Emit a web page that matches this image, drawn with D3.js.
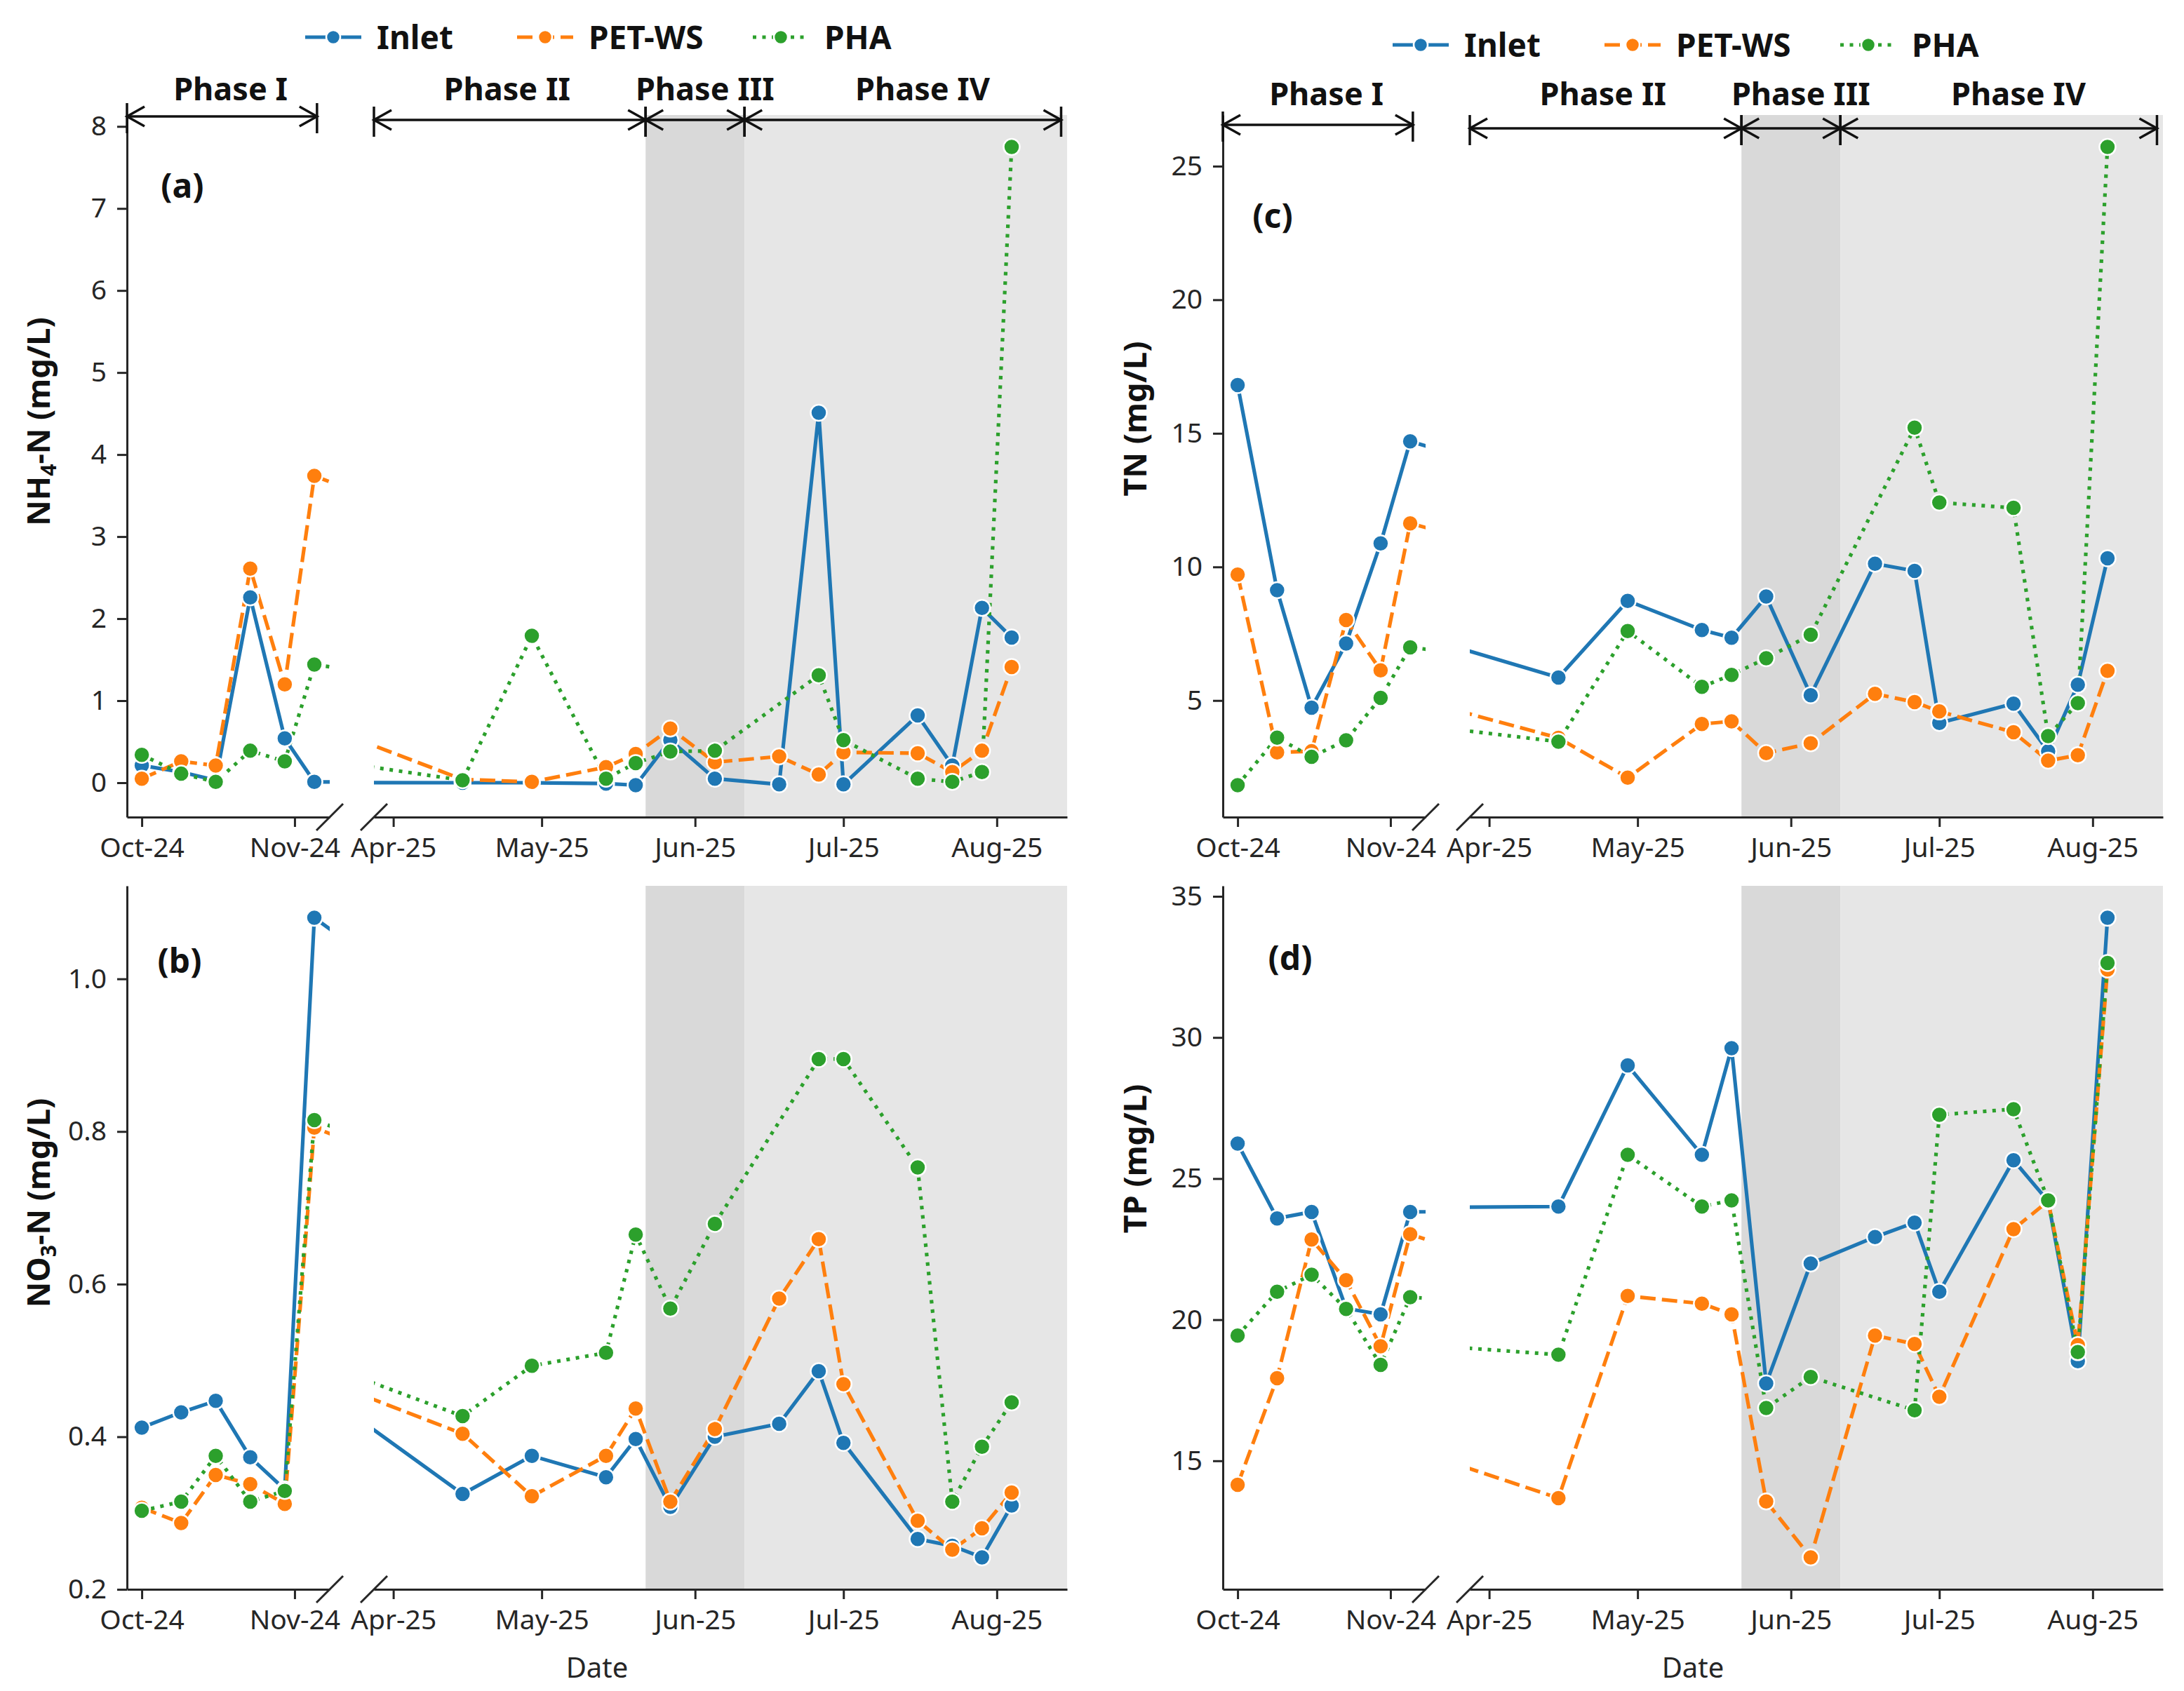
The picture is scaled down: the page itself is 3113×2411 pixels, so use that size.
<!DOCTYPE html>
<html><head><meta charset="utf-8">
<script src="https://cdn.jsdelivr.net/npm/d3@7"></script>
<style>body{margin:0;background:#fff} svg{display:block}</style>
</head><body>
<svg id="chart" width="3113" height="2411"></svg>
<script>
// ---------------- DATA ----------------
const sampleDates = ["2024-10-01","2024-10-09","2024-10-16","2024-10-23","2024-10-30","2024-11-05",
  "2025-04-15","2025-04-29","2025-05-14","2025-05-20","2025-05-27","2025-06-05","2025-06-18",
  "2025-06-26","2025-07-01","2025-07-16","2025-07-23","2025-07-29","2025-08-04"];
const seriesNames = ["Inlet","PET-WS","PHA"];

const nh4Inlet = [0.21,0.13,0.03,2.26,0.54,0.01, 0.00,0.00,-0.01,-0.03,0.52,0.05,-0.02,4.51,-0.02,0.82,0.21,2.13,1.77];
const nh4PetWs = [0.05,0.26,0.21,2.61,1.20,3.74, 0.04,0.01,0.19,0.35,0.66,0.25,0.32,0.10,0.37,0.36,0.13,0.39,1.41];
const nh4Pha   = [0.34,0.11,0.01,0.39,0.26,1.44, 0.03,1.79,0.05,0.24,0.38,0.39,null,1.31,0.52,0.05,0.01,0.13,7.75];

const no3Inlet = [0.412,0.432,0.447,0.373,0.331,1.080, 0.325,0.375,0.347,0.397,0.308,0.400,0.417,0.486,0.392,0.266,0.257,0.242,0.310];
const no3PetWs = [0.307,0.287,0.350,0.338,0.312,0.805, 0.404,0.322,0.375,0.437,0.315,0.410,0.581,0.659,0.469,0.290,0.252,0.280,0.327];
const no3Pha   = [0.303,0.315,0.375,0.315,0.329,0.815, 0.427,0.493,0.510,0.665,0.568,0.679,null,0.895,0.895,0.753,0.315,0.387,0.445];

const tnInlet = [16.81,9.13,4.73,7.13,10.88,14.70, 5.86,8.73,7.64,7.35,8.89,5.20,10.12,9.85,4.16,4.88,3.10,5.59,10.32];
const tnPetWs = [9.71,3.06,3.10,8.01,6.13,11.63, 3.60,2.11,4.12,4.22,3.03,3.40,5.25,4.94,4.59,3.81,2.75,2.95,6.11];
const tnPha   = [1.83,3.61,2.89,3.51,5.10,6.99, 3.46,7.60,5.51,5.96,6.58,7.46,null,15.21,12.41,12.21,3.67,4.90,25.72];

const tpInlet = [26.24,23.59,23.82,20.40,20.19,23.82, 24.01,29.01,25.84,29.62,17.74,21.99,22.93,23.44,20.99,25.65,24.20,18.53,34.24];
const tpPetWs = [14.15,17.93,22.84,21.40,19.06,23.03, 13.68,20.84,20.57,20.19,13.56,11.58,19.44,19.14,17.27,23.21,24.20,19.10,32.41];
const tpPha   = [19.44,20.99,21.59,20.38,18.40,20.80, 18.76,25.84,24.01,24.23,16.87,17.97,null,16.79,27.26,27.46,24.23,18.85,32.64];

const yTicksNH4 = [0,1,2,3,4,5,6,7,8];
const yTicksNO3 = [0.2,0.4,0.6,0.8,1.0];
const yTicksTN  = [5,10,15,20,25];
const yTicksTP  = [15,20,25,30,35];

const leftXLim  = ["2024-09-28T00:00","2024-11-08T03:00"];
const rightXLim = ["2025-03-28T02:00","2025-08-15T05:00"];
const leftXTicks  = ["2024-10-01","2024-11-01"];
const rightXTicks = ["2025-04-01","2025-05-01","2025-06-01","2025-07-01","2025-08-01"];

const phaseNames = ["Phase I","Phase II","Phase III","Phase IV"];
const phaseIEnd = "2024-11-05T13:00";
const phaseIIIStart = "2025-05-22";
const phaseIVStart = "2025-06-11";
const phaseIVEnd = "2025-08-14";
const phaseLabelDates = ["2024-10-19","2025-04-24","2025-06-03","2025-07-17"];

// ---------------- LAYOUT / STYLE ----------------
const W = 3113, H = 2411;
const FONT = "'Noto Sans','Open Sans','DejaVu Sans',sans-serif";
const TXT = "#262626";
const colors = {"Inlet":"#1f77b4","PET-WS":"#ff7f0e","PHA":"#2ca02c"};
const dashes = {"Inlet":null,"PET-WS":"22 9","PHA":"5 8.5"};
const colX0 = [181, 1743];
const leftW = 289, gapW = 63, rightW = 988;
const rows = [{top:164, bottom:1165},{top:1263, bottom:2266}];
const colAnno = [
  {legendX:435, legendY:53, textBase:143, arrowY1:166, arrowY:171},
  {legendX:1985, legendY:64, textBase:150, arrowY1:178, arrowY:183}
];
const legendOffsets = [0, 302, 638];

const parse = d3.isoParse;
const dates = sampleDates.map(parse);

const panels = [
  {id:"a", col:0, row:0, letter:"(a)", letterXY:[260,265], ylab:["NH","4","-N (mg/L)"], ylabY:601,
   ticks:yTicksNH4, fmt:d3.format("d"), series:{"Inlet":nh4Inlet,"PET-WS":nh4PetWs,"PHA":nh4Pha}, top:true},
  {id:"b", col:0, row:1, letter:"(b)", letterXY:[256,1370], ylab:["NO","3","-N (mg/L)"], ylabY:1715,
   ticks:yTicksNO3, fmt:d3.format(".1f"), series:{"Inlet":no3Inlet,"PET-WS":no3PetWs,"PHA":no3Pha}, top:false},
  {id:"c", col:1, row:0, letter:"(c)", letterXY:[1814,308], ylab:["TN (mg/L)"], ylabY:597,
   ticks:yTicksTN, fmt:d3.format("d"), series:{"Inlet":tnInlet,"PET-WS":tnPetWs,"PHA":tnPha}, top:true},
  {id:"d", col:1, row:1, letter:"(d)", letterXY:[1839,1366], ylab:["TP (mg/L)"], ylabY:1652,
   ticks:yTicksTP, fmt:d3.format("d"), series:{"Inlet":tpInlet,"PET-WS":tpPetWs,"PHA":tpPha}, top:false}
];

const svg = d3.select("#chart");
svg.append("rect").attr("width",W).attr("height",H).attr("fill","#fff");
const defs = svg.append("defs");

function chevron(g, x, y, dir){
  g.append("path").attr("d", `M${x-dir*25},${y-14} L${x},${y} L${x-dir*25},${y+14}`)
    .attr("fill","none").attr("stroke","#111").attr("stroke-width",3.5).attr("stroke-linejoin","miter");
}
function bar(g, x, y){
  g.append("line").attr("x1",x).attr("x2",x).attr("y1",y-19).attr("y2",y+24)
    .attr("stroke","#111").attr("stroke-width",3.5);
}
function arrow(g, xa, xb, y){
  g.append("line").attr("x1",xa).attr("x2",xb).attr("y1",y).attr("y2",y)
    .attr("stroke","#111").attr("stroke-width",3.5);
  chevron(g, xa, y, -1); chevron(g, xb, y, 1);
  bar(g, xa, y); bar(g, xb, y);
}

panels.forEach(p => {
  const x0 = colX0[p.col];
  const {top, bottom} = rows[p.row];
  const g = svg.append("g");
  const allVals = seriesNames.flatMap(s => p.series[s].filter(v => v != null));
  const [mn, mx] = d3.extent(allVals);
  const pad = (mx - mn) * 0.05;
  const y = d3.scaleLinear().domain([mn - pad, mx + pad]).range([bottom, top]);
  const xL = d3.scaleTime().domain(leftXLim.map(parse)).range([x0, x0 + leftW]);
  const xR = d3.scaleTime().domain(rightXLim.map(parse)).range([x0 + leftW + gapW, x0 + leftW + gapW + rightW]);
  const subs = [{x:xL, ticks:leftXTicks}, {x:xR, ticks:rightXTicks}];

  // phase shading (right sub)
  const p3 = parse(phaseIIIStart), p4 = parse(phaseIVStart);
  g.append("rect").attr("x", xR(p3)).attr("y", top).attr("width", xR(p4) - xR(p3)).attr("height", bottom - top)
    .attr("fill", "#d9d9d9");
  g.append("rect").attr("x", xR(p4)).attr("y", top).attr("width", xR.range()[1] - xR(p4)).attr("height", bottom - top)
    .attr("fill", "#e6e6e6");

  subs.forEach((sub, si) => {
    const cid = `clip-${p.id}-${si}`;
    const [r0, r1] = sub.x.range();
    defs.append("clipPath").attr("id", cid).append("rect")
      .attr("x", r0).attr("y", top - 30).attr("width", r1 - r0).attr("height", bottom - top + 30);
    const cg = g.append("g").attr("clip-path", `url(#${cid})`);
    seriesNames.forEach(s => {
      const pts = dates.map((d, i) => ({d, v: p.series[s][i]})).filter(o => o.v != null);
      const line = d3.line().x(o => sub.x(o.d)).y(o => y(o.v));
      cg.append("path").datum(pts).attr("d", line).attr("fill", "none")
        .attr("stroke", colors[s]).attr("stroke-width", 5.2)
        .attr("stroke-dasharray", dashes[s]).attr("stroke-linecap", "butt").attr("stroke-linejoin","round");
    });
    seriesNames.forEach(s => {
      const pts = dates.map((d, i) => ({d, v: p.series[s][i]})).filter(o => o.v != null);
      cg.selectAll(null).data(pts).enter().append("circle")
        .attr("cx", o => sub.x(o.d)).attr("cy", o => y(o.v)).attr("r", 11.5)
        .attr("fill", colors[s]).attr("stroke", "#fff").attr("stroke-width", 2.5);
    });

    // x axis
    const ax = g.append("g").attr("transform", `translate(0,${bottom})`)
      .call(d3.axisBottom(sub.x).tickValues(sub.ticks.map(parse)).tickFormat(d3.timeFormat("%b-%y"))
        .tickSize(14).tickSizeOuter(0).tickPadding(15));
    ax.select(".domain").attr("stroke", TXT).attr("stroke-width", 3);
    ax.selectAll(".tick line").attr("stroke", TXT).attr("stroke-width", 3);
    ax.selectAll(".tick text").attr("fill", TXT).attr("font-size", 39).attr("font-family", FONT);
  });

  // break marks
  [x0 + leftW, x0 + leftW + gapW].forEach(bx => {
    g.append("line").attr("x1", bx - 19).attr("y1", bottom + 19).attr("x2", bx + 19).attr("y2", bottom - 19)
      .attr("stroke", TXT).attr("stroke-width", 3);
  });

  // y axis
  const ay = g.append("g").attr("transform", `translate(${x0},0)`)
    .call(d3.axisLeft(y).tickValues(p.ticks).tickFormat(p.fmt).tickSize(14).tickSizeOuter(0).tickPadding(15));
  ay.select(".domain").attr("stroke", TXT).attr("stroke-width", 3);
  ay.selectAll(".tick line").attr("stroke", TXT).attr("stroke-width", 3);
  ay.selectAll(".tick text").attr("fill", TXT).attr("font-size", 39).attr("font-family", FONT);

  // y label
  const ylx = p.col === 0 ? 55 : 1618;
  const yl = g.append("text").attr("transform", `translate(${ylx},${p.ylabY}) rotate(-90)`)
    .attr("text-anchor", "middle").attr("dy", "0.35em")
    .attr("font-family", FONT).attr("font-size", 45).attr("font-weight", "bold").attr("fill", "#111");
  if (p.ylab.length === 3) {
    yl.append("tspan").text(p.ylab[0]);
    yl.append("tspan").text(p.ylab[1]).attr("font-size", 30).attr("dy", "0.3em");
    yl.append("tspan").text(p.ylab[2]).attr("dy", "-0.2em");
  } else {
    yl.text(p.ylab[0]);
  }

  // panel letter
  g.append("text").attr("x", p.letterXY[0]).attr("y", p.letterXY[1]).attr("dy", "0.35em")
    .attr("text-anchor", "middle").attr("font-family", FONT).attr("font-size", 48)
    .attr("font-weight", "bold").attr("fill", "#111").text(p.letter);

  if (!p.top) {
    g.append("text").attr("x", x0 + (leftW + gapW + rightW) / 2).attr("y", 2392)
      .attr("text-anchor", "middle").attr("font-family", FONT).attr("font-size", 40).attr("fill", TXT).text("Date");
  }

  if (p.top) {
    const an = colAnno[p.col];
    const ag = svg.append("g");
    arrow(ag, xL.range()[0], xL(parse(phaseIEnd)), an.arrowY1);
    arrow(ag, xR.range()[0], xR(p3), an.arrowY);
    arrow(ag, xR(p3), xR(p4), an.arrowY);
    arrow(ag, xR(p4), xR(parse(phaseIVEnd)), an.arrowY);
    phaseNames.forEach((nm, i) => {
      const xs = i === 0 ? xL : xR;
      ag.append("text").attr("x", xs(parse(phaseLabelDates[i]))).attr("y", an.textBase)
        .attr("text-anchor", "middle").attr("font-family", FONT).attr("font-size", 45)
        .attr("font-weight", "bold").attr("fill", "#111").text(nm);
    });
    // legend
    const lg = svg.append("g");
    seriesNames.forEach((s, i) => {
      const hx = an.legendX + legendOffsets[i];
      lg.append("line").attr("x1", hx).attr("x2", hx + 80).attr("y1", an.legendY).attr("y2", an.legendY)
        .attr("stroke", colors[s]).attr("stroke-width", 5).attr("stroke-dasharray", dashes[s]);
      lg.append("circle").attr("cx", hx + 40).attr("cy", an.legendY).attr("r", 10)
        .attr("fill", colors[s]).attr("stroke", "#fff").attr("stroke-width", 2.5);
      lg.append("text").attr("x", hx + 102).attr("y", an.legendY).attr("dy", "0.36em")
        .attr("font-family", FONT).attr("font-size", 46).attr("font-weight", "bold").attr("fill", "#111").text(s);
    });
  }
});
</script>
</body></html>
